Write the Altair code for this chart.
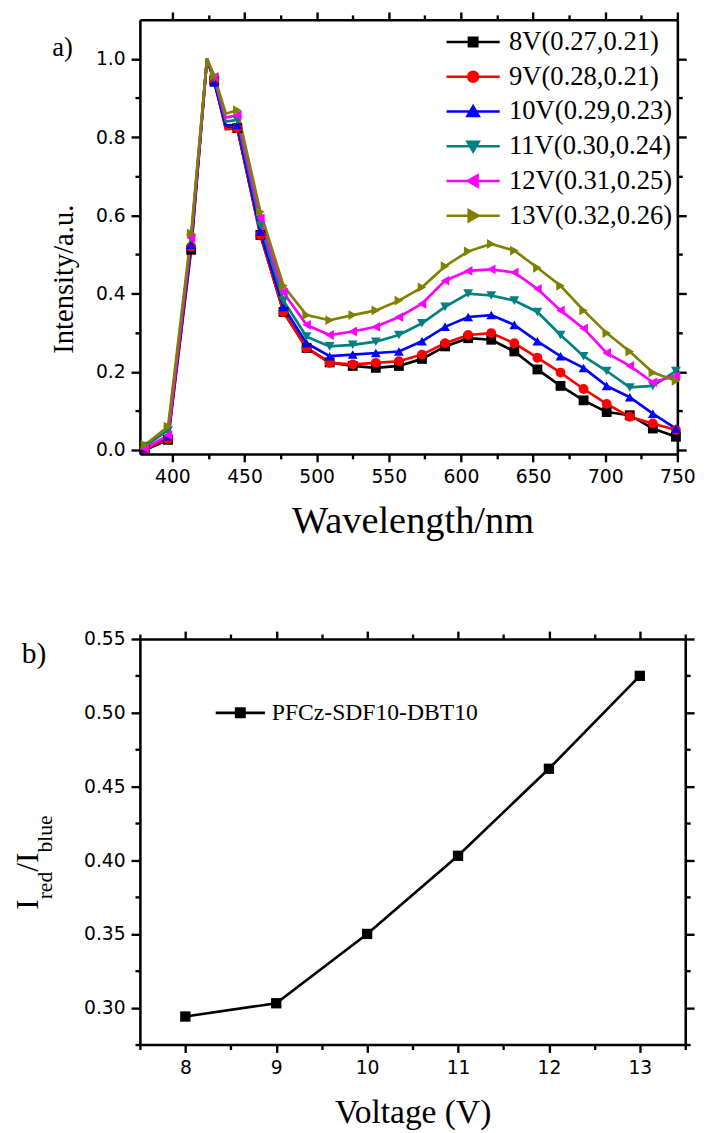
import altair as alt
import pandas as pd

# ---------------- data: panel a ----------------
series_names = ["8V(0.27,0.21)", "9V(0.28,0.21)", "10V(0.29,0.23)",
                "11V(0.30,0.24)", "12V(0.31,0.25)", "13V(0.32,0.26)"]
series_colors = ["#000000", "#FF0000", "#0000FF", "#008080", "#FF00FF", "#808000"]
series_shapes = ["square", "circle", "triangle-up", "triangle-down", "triangle-left", "triangle-right"]

wavelength = [381, 397, 413, 424, 429, 437, 445, 461, 477, 493, 509, 525, 541, 557,
              573, 589, 605, 621, 637, 653, 669, 685, 701, 717, 733, 749]
is_marker = [True, True, True, False, True, False, True, True, True, True, True, True, True, True,
             True, True, True, True, True, True, True, True, True, True, True, True]

v8 = [0.0, 0.026, 0.512, 1.0, 0.945, 0.825, 0.823, 0.55, 0.353, 0.261, 0.224, 0.215, 0.21, 0.215,
      0.233, 0.265, 0.286, 0.282, 0.252, 0.206, 0.164, 0.127, 0.097, 0.089, 0.055, 0.034]
v9 = [0.003, 0.028, 0.52, 1.0, 0.945, 0.82, 0.823, 0.55, 0.353, 0.261, 0.223, 0.219, 0.223, 0.227,
      0.244, 0.273, 0.294, 0.299, 0.273, 0.236, 0.198, 0.156, 0.118, 0.085, 0.068, 0.051]
v10 = [0.005, 0.035, 0.525, 1.0, 0.94, 0.83, 0.831, 0.558, 0.366, 0.273, 0.24, 0.244, 0.248, 0.252,
       0.278, 0.315, 0.34, 0.345, 0.32, 0.278, 0.24, 0.21, 0.164, 0.135, 0.093, 0.055]
v11 = [0.01, 0.05, 0.54, 1.0, 0.95, 0.84, 0.844, 0.575, 0.382, 0.29, 0.265, 0.269, 0.277, 0.294,
       0.324, 0.366, 0.4, 0.395, 0.382, 0.353, 0.294, 0.24, 0.202, 0.16, 0.164, 0.202]
v12 = [0.003, 0.038, 0.542, 1.0, 0.954, 0.85, 0.856, 0.592, 0.403, 0.32, 0.294, 0.303, 0.315, 0.34,
       0.374, 0.433, 0.458, 0.462, 0.454, 0.412, 0.357, 0.311, 0.248, 0.215, 0.173, 0.19]
v13 = [0.013, 0.06, 0.554, 1.0, 0.958, 0.86, 0.869, 0.609, 0.42, 0.345, 0.332, 0.345, 0.357, 0.382,
       0.416, 0.47, 0.508, 0.527, 0.51, 0.466, 0.42, 0.357, 0.299, 0.252, 0.198, 0.177]

x_ticks_a = [400, 425, 450, 475, 500, 525, 550, 575, 600, 625, 650, 675, 700, 725, 750]
x_major_a = [400, 450, 500, 550, 600, 650, 700, 750]
y_ticks_a = [0.0, 0.1, 0.2, 0.3, 0.4, 0.5, 0.6, 0.7, 0.8, 0.9, 1.0]
y_major_a = [0.0, 0.2, 0.4, 0.6, 0.8, 1.0]

# ---------------- data: panel b ----------------
series_b = ["PFCz-SDF10-DBT10"]
voltage = [8, 9, 10, 11, 12, 13]
ratio = [0.294, 0.303, 0.350, 0.403, 0.462, 0.525]

x_ticks_b = [7.5, 8.0, 8.5, 9.0, 9.5, 10.0, 10.5, 11.0, 11.5, 12.0, 12.5, 13.0, 13.5]
x_major_b = [8.0, 9.0, 10.0, 11.0, 12.0, 13.0]
y_ticks_b = [0.275, 0.3, 0.325, 0.35, 0.375, 0.4, 0.425, 0.45, 0.475, 0.5, 0.525, 0.55]
y_major_b = [0.3, 0.35, 0.4, 0.45, 0.5, 0.55]

panel_labels = ["a)", "b)"]
ytitle_b_parts = ["I", "red", "/I", "blue"]

rows = []
for name, vals in zip(series_names, [v8, v9, v10, v11, v12, v13]):
    for w, m, v in zip(wavelength, is_marker, vals):
        rows.append({"series": name, "wavelength": w, "intensity": v, "marker": m})
df_a = pd.DataFrame(rows)
df_b = pd.DataFrame({"series": series_b * len(voltage), "voltage": voltage, "ratio": ratio})

SERIF = "Liberation Serif"
SANS = "DejaVu Sans"


def axis(orient, ticks, major, fmt, labels, title=None, major_len=8, min_step=0.001, **kw):
    test = "(" + " || ".join("abs(datum.value - %r) < 1e-6" % m for m in major) + ")"
    return alt.Axis(
        orient=orient, values=ticks, tickCount=len(ticks) + 10, tickMinStep=min_step,
        format=fmt, grid=False,
        tickSize={"condition": {"test": test, "value": major_len}, "value": 5},
        labels=labels, labelExpr="%s ? format(datum.value, '%s') : ''" % (test, fmt),
        labelFlush=False, labelOverlap=False, title=title, **kw)


def sym_paths(half):
    line = "M-%s,0L%s,0" % (half, half)
    return [
        line + "M-0.42,-0.42L0.42,-0.42L0.42,0.42L-0.42,0.42Z",
        line + "M0.5,0A0.5,0.5 0 1,1 -0.5,0A0.5,0.5 0 1,1 0.5,0Z",
        line + "M0,-0.52L0.56,0.45L-0.56,0.45Z",
        line + "M0,0.52L0.56,-0.45L-0.56,-0.45Z",
        line + "M-0.52,0L0.45,-0.56L0.45,0.56Z",
        line + "M0.52,0L-0.45,-0.56L-0.45,0.56Z",
    ]


# ---------------- panel a ----------------
xa = alt.Scale(domain=[377.5, 750], nice=False, zero=False)
ya = alt.Scale(domain=[-0.01, 1.1], nice=False, zero=False)
col_a = alt.Scale(domain=series_names, range=series_colors)

ax_bottom_a = axis("bottom", x_ticks_a, x_major_a, "d", True, "Wavelength/nm",
                   titleFontSize=39, titleX=277, titleY=80, titleAlign="center",
                   titleBaseline="alphabetic")
ax_top_a = axis("top", x_ticks_a, x_major_a, "d", False)
ax_left_a = axis("left", y_ticks_a, y_major_a, ".1f", True, "Intensity/a.u.", major_len=9,
                 titleFontSize=29, titleX=-68, titleY=263, titleAngle=270,
                 titleAlign="center", titleBaseline="alphabetic")
ax_right_a = axis("right", y_ticks_a, y_major_a, ".1f", False, major_len=9)

lines_a = alt.Chart(df_a).mark_line(strokeWidth=2.7, clip=True).encode(
    x=alt.X("wavelength:Q", scale=xa, axis=ax_bottom_a),
    y=alt.Y("intensity:Q", scale=ya, axis=ax_left_a),
    color=alt.Color("series:N", scale=col_a, legend=None),
)
points_a = alt.Chart(df_a).transform_filter("datum.marker").mark_point(
    filled=True, size=100, opacity=1).encode(
    x=alt.X("wavelength:Q", scale=xa, axis=ax_top_a),
    y=alt.Y("intensity:Q", scale=ya, axis=ax_right_a),
    color=alt.Color("series:N", scale=col_a, legend=None),
    shape=alt.Shape("series:N", scale=alt.Scale(domain=series_names, range=series_shapes), legend=None),
)
leg_a = alt.Legend(orient="none", legendX=325, legendY=9, title=None, padding=0,
                   labelFont=SERIF, labelFontSize=27, labelColor="black", labelLimit=400,
                   symbolSize=400, symbolStrokeWidth=2.7, labelOffset=23, rowPadding=7.3)
legend_layer_a = alt.Chart(df_a).transform_filter("false").mark_point(filled=True, opacity=1).encode(
    x=alt.X("wavelength:Q", scale=xa, axis=None),
    y=alt.Y("intensity:Q", scale=ya, axis=None),
    fill=alt.Fill("series:N", scale=alt.Scale(domain=series_names, range=series_colors), legend=leg_a),
    stroke=alt.Stroke("series:N", scale=alt.Scale(domain=series_names, range=series_colors), legend=leg_a),
    shape=alt.Shape("series:N", scale=alt.Scale(domain=series_names, range=sym_paths(2.7)), legend=leg_a),
)
text_a = alt.Chart(pd.DataFrame({"t": [panel_labels[0]]})).mark_text(
    font=SERIF, fontSize=27, align="left", baseline="middle", color="black").encode(
    text="t:N", x=alt.value(-89), y=alt.value(29))

chart_a = alt.layer(lines_a, points_a, legend_layer_a, text_a).resolve_scale(
    color="independent", shape="independent", fill="independent", stroke="independent"
).resolve_axis(x="independent", y="independent").properties(width=546, height=441)

# ---------------- panel b ----------------
xb = alt.Scale(domain=[7.5, 13.5], nice=False, zero=False)
yb = alt.Scale(domain=[0.275, 0.55], nice=False, zero=False)
col_b = alt.Scale(domain=series_b, range=["#000000"])

ax_bottom_b = axis("bottom", x_ticks_b, x_major_b, ".0f", True, "Voltage (V)",
                   titleFontSize=34, titleY=79, titleBaseline="alphabetic")
ax_top_b = axis("top", x_ticks_b, x_major_b, ".0f", False)
ax_left_b = axis("left", y_ticks_b, y_major_b, ".2f", True, major_len=9)
ax_right_b = axis("right", y_ticks_b, y_major_b, ".2f", False, major_len=9)

line_b = alt.Chart(df_b).mark_line(strokeWidth=2.7, color="black").encode(
    x=alt.X("voltage:Q", scale=xb, axis=ax_bottom_b),
    y=alt.Y("ratio:Q", scale=yb, axis=ax_left_b),
)
points_b = alt.Chart(df_b).mark_point(filled=True, size=110, opacity=1, shape="square", color="black").encode(
    x=alt.X("voltage:Q", scale=xb, axis=ax_top_b),
    y=alt.Y("ratio:Q", scale=yb, axis=ax_right_b),
)
leg_b = alt.Legend(orient="none", legendX=90, legendY=63, title=None, padding=0,
                   labelFont=SERIF, labelFontSize=24, labelColor="black", labelLimit=400,
                   symbolSize=400, symbolStrokeWidth=2.7, labelOffset=20)
legend_layer_b = alt.Chart(df_b).transform_filter("false").mark_point(filled=True, opacity=1).encode(
    x=alt.X("voltage:Q", scale=xb, axis=None),
    y=alt.Y("ratio:Q", scale=yb, axis=None),
    fill=alt.Fill("series:N", scale=col_b, legend=leg_b),
    stroke=alt.Stroke("series:N", scale=col_b, legend=leg_b),
    shape=alt.Shape("series:N", scale=alt.Scale(domain=series_b, range=sym_paths(2.5)[:1]), legend=leg_b),
)
text_b = alt.Chart(pd.DataFrame({"t": [panel_labels[1]]})).mark_text(
    font=SERIF, fontSize=30, align="left", baseline="middle", color="black").encode(
    text="t:N", x=alt.value(-120), y=alt.value(15))

yt_pos = [(-104, 275, 32), (-89, 264.5, 22), (-104, 236.5, 32), (-89, 217, 22)]
ytitle_layers = []
for part, (px, py, fs) in zip(ytitle_b_parts, yt_pos):
    ytitle_layers.append(
        alt.Chart(pd.DataFrame({"t": [part]})).mark_text(
            font=SERIF, fontSize=fs, angle=270, align="left", baseline="alphabetic", color="black"
        ).encode(text="t:N", x=alt.value(px), y=alt.value(py)))

chart_b = alt.layer(line_b, points_b, legend_layer_b, text_b, *ytitle_layers).resolve_scale(
    fill="independent", stroke="independent", shape="independent"
).resolve_axis(x="independent", y="independent").properties(width=554, height=412)

chart = alt.vconcat(chart_a, chart_b, spacing=90).configure(
    padding={"left": 4, "top": -7, "right": 5, "bottom": 5}, background="white"
).configure_axis(
    labelFont=SANS, labelFontSize=19, labelColor="black", labelPadding=6,
    titleFont=SERIF, titleFontWeight="normal", titleColor="black",
    domainColor="black", domainWidth=2.6, tickColor="black", tickWidth=2.4,
).configure_view(stroke=None)

chart.save("out.html", embed_options={"renderer": "svg", "actions": False})
